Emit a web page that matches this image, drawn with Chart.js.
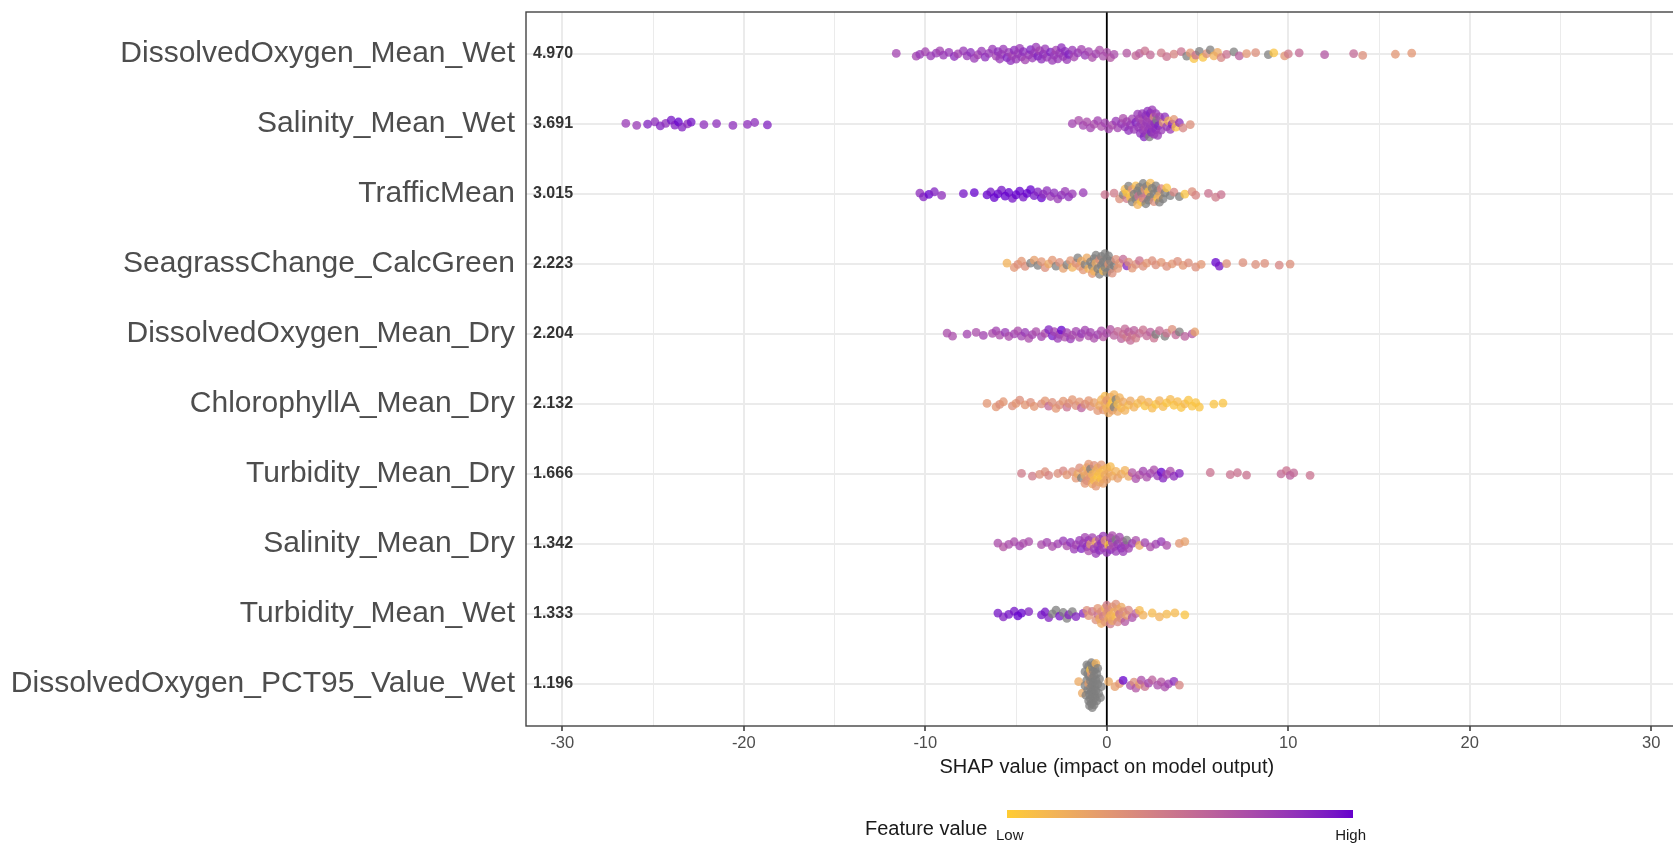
<!DOCTYPE html>
<html>
<head>
<meta charset="utf-8">
<script src="https://cdn.jsdelivr.net/npm/chart.js@4"></script>
<style>
  html, body { margin: 0; padding: 0; background: #fff; overflow: hidden; }
  #wrap { position: absolute; left: 0; top: 0; width: 1692px; height: 843px; }
</style>
</head>
<body>
<div id="wrap"><canvas id="chart" width="1692" height="843"></canvas></div>
<script>
const NA = null;

// features, top to bottom, with mean |SHAP|
const features = ['DissolvedOxygen_Mean_Wet', 'Salinity_Mean_Wet', 'TrafficMean', 'SeagrassChange_CalcGreen',
  'DissolvedOxygen_Mean_Dry', 'ChlorophyllA_Mean_Dry', 'Turbidity_Mean_Dry', 'Salinity_Mean_Dry',
  'Turbidity_Mean_Wet', 'DissolvedOxygen_PCT95_Value_Wet'];
const meanAbsShap = ['4.970', '3.691', '3.015', '2.223', '2.204', '2.132', '1.666', '1.342', '1.333', '1.196'];
const xTickLabels = [-30, -20, -10, 0, 10, 20, 30];

// [shap value, scaled feature value 0..1 (NA = missing)]
const doMeanWet = [[-11.6,.75],[-10.5,.75],[-10.3,.8],[-10.0,.75],[-9.7,.8],[-9.4,.8],[-9.2,.75],[-9.0,.8],[-8.7,.8],[-8.4,.85],
  [-8.2,.75],[-7.9,.8],[-7.7,.8],[-7.5,.85],[-7.3,.8],[-7.1,.75],[-6.9,.8],[-6.7,.85],[-6.5,.8],[-6.3,.8],[-6.1,.75],[-6.0,.85],
  [-5.9,.8],[-5.8,.8],[-5.7,.8],[-5.5,.9],[-5.4,.8],[-5.3,.85],[-5.2,.75],[-5.1,.85],[-5.0,.8],[-4.9,.8],[-4.8,.8],[-4.7,.8],
  [-4.6,.85],[-4.5,.75],[-4.3,.8],[-4.2,.9],[-4.1,.8],[-4.0,.8],[-3.9,.8],[-3.8,.9],[-3.7,.75],[-3.6,.85],[-3.5,.85],[-3.4,.8],
  [-3.3,.8],[-3.1,.9],[-3.0,.8],[-2.9,.8],[-2.8,.75],[-2.7,.8],[-2.6,.8],[-2.5,.85],[-2.4,.8],[-2.3,.85],[-2.2,.8],[-2.1,.9],
  [-1.9,.8],[-1.8,.75],[-1.6,.8],[-1.4,.75],[-1.2,.8],[-1.0,.75],[-0.8,.7],[-0.6,.75],[-0.4,.7],[-0.2,.7],[0.0,.7],[0.2,.65],[0.4,.7],
  [1.1,.65],[1.6,.55],[1.8,.6],[2.1,.5],[2.4,.55],[3.0,.45],[3.3,.5],[3.7,.4],[4.1,.5],[4.4,NA],[4.6,.3],[4.8,.05],[4.9,.5],
  [5.1,NA],[5.3,.05],[5.5,.35],[5.7,NA],[5.9,.15],[6.1,.2],[6.3,.4],[6.6,.5],[7.0,NA],[7.3,.6],[7.7,.3],[8.2,.35],[8.9,NA],
  [9.2,.05],[9.8,.3],[10.0,.45],[10.6,.55],[12.0,.65],[13.6,.55],[14.1,.35],[15.9,.3],[16.8,.3]];

const salMeanWet = [[-26.5,.8],[-25.9,.8],[-25.3,.9],[-24.9,.85],[-24.6,.9],[-24.3,.85],[-24.0,.95],[-23.8,.9],[-23.6,1],[-23.4,.9],
  [-23.1,.85],[-22.9,.95],[-22.2,.85],[-21.5,.85],[-20.6,.85],[-19.8,.85],[-19.4,.85],[-18.7,.9],
  [-1.9,.75],[-1.55,.7],[-1.3,.75],[-1.1,.7],[-0.9,.75],[-0.7,.7],[-0.5,.75],[-0.3,.7],[-0.1,.75],
  [0.1,.75],[0.3,.7],[0.5,.8],[0.6,.75],[0.8,.8],[0.9,.7],[1.0,.8],[1.1,.75],[1.2,.85],[1.3,.8],[1.4,.75],[1.5,.8],[1.6,.9],
  [1.7,.8],[1.75,.8],[1.8,.75],[1.85,.85],[1.9,.8],[1.95,.8],[2.0,.8],[2.0,.7],[2.05,.9],[2.1,.75],[2.15,.85],[2.2,.8],[2.2,.8],
  [2.25,.85],[2.3,.8],[2.3,.75],[2.35,NA],[2.4,.8],[2.4,.9],[2.45,.9],[2.5,.75],[2.5,.8],[2.55,.8],[2.6,.35],[2.6,.8],[2.65,.85],
  [2.7,.8],[2.7,.85],[2.75,NA],[2.8,.8],[2.85,.9],[2.9,.75],[3.0,.8],[3.1,.3],[3.2,.85],[3.3,.8],[3.4,.15],[3.5,.8],[3.6,.9],
  [3.7,.3],[3.8,.05],[4.0,.85],[4.2,.4],[4.6,.35]];

const trafficMean = [[-10.3,.85],[-10.1,.9],[-9.8,1],[-9.5,.9],[-9.1,.85],[-7.9,.95],[-7.3,1],[-6.6,1],[-6.4,.95],[-6.2,1],
  [-6.0,1],[-5.8,.95],[-5.6,1],[-5.4,1],[-5.2,.95],[-5.0,1],[-4.8,1],[-4.6,.95],[-4.4,1],[-4.2,1],[-4.0,.95],[-3.8,.9],[-3.6,1],
  [-3.5,.85],[-3.3,.85],[-3.1,.8],[-2.9,.85],[-2.7,.8],[-2.5,.85],[-2.3,.8],[-2.1,.85],[-1.9,.8],[-1.3,.8],
  [-0.1,.5],[0.4,.45],[0.7,.35],[0.9,NA],[1.0,.1],[1.1,.45],[1.1,.05],[1.2,NA],[1.3,.05],[1.4,.3],[1.4,NA],[1.5,NA],[1.6,.1],
  [1.6,NA],[1.7,NA],[1.7,.15],[1.75,.5],[1.8,NA],[1.9,.05],[1.9,NA],[2.0,NA],[2.0,.45],[2.1,.3],[2.15,NA],[2.2,.45],[2.2,NA],
  [2.3,NA],[2.3,.05],[2.4,.1],[2.4,NA],[2.5,NA],[2.6,.35],[2.6,NA],[2.7,NA],[2.8,.05],[2.8,NA],[2.9,NA],[2.9,.2],[3.0,.4],
  [3.1,NA],[3.2,NA],[3.3,.05],[3.5,NA],[3.7,.4],[4.0,NA],[4.3,.05],[4.7,.35],[4.9,.4],[5.6,.5],[6.0,.45],[6.3,.5]];

const seagrassCalcGreen = [[-5.5,.15],[-5.1,.3],[-4.9,.35],[-4.7,.3],[-4.5,.35],[-4.2,NA],[-4.0,.25],[-3.8,NA],[-3.6,.3],[-3.4,.35],
  [-3.2,.2],[-3.0,.3],[-2.8,NA],[-2.6,.35],[-2.4,.25],[-2.2,NA],[-2.0,.3],[-1.9,.15],[-1.7,.35],[-1.6,NA],[-1.5,.3],[-1.4,.2],
  [-1.3,.3],[-1.2,NA],[-1.1,.2],[-1.0,.15],[-0.9,NA],[-0.8,.3],[-0.8,NA],[-0.7,NA],[-0.7,.15],[-0.6,.2],[-0.6,NA],[-0.5,NA],
  [-0.4,.35],[-0.4,NA],[-0.3,NA],[-0.3,NA],[-0.2,.1],[-0.2,NA],[-0.1,NA],[-0.1,NA],[0.0,NA],[0.0,NA],[0.1,.3],[0.1,NA],[0.2,NA],
  [0.2,NA],[0.3,.35],[0.4,NA],[0.5,.35],[0.6,.3],[0.7,.3],[0.9,.55],[1.1,.9],[1.2,.35],[1.4,.3],[1.6,.35],[1.8,.5],[2.0,.35],
  [2.2,.3],[2.5,.35],[2.7,.35],[3.0,.3],[3.3,.35],[3.6,.3],[3.9,.35],[4.2,.3],[4.5,.35],[4.9,.35],[5.2,.3],[6.0,1],[6.2,.95],
  [6.6,.35],[7.5,.35],[8.2,.35],[8.7,.35],[9.5,.4],[10.1,.35]];

const doMeanDry = [[-8.8,.7],[-8.5,.7],[-7.7,.75],[-7.2,.7],[-6.8,.75],[-6.3,.7],[-6.1,.75],[-5.9,.7],[-5.6,.8],[-5.4,.7],
  [-5.1,.75],[-4.9,.7],[-4.7,.75],[-4.5,.8],[-4.3,.7],[-4.1,.75],[-3.9,.7],[-3.6,.75],[-3.4,.7],[-3.2,.9],[-3.0,.95],[-2.9,.75],
  [-2.7,.8],[-2.6,.75],[-2.5,1],[-2.3,.7],[-2.2,.75],[-2.0,.8],[-1.9,.7],[-1.7,.75],[-1.5,.7],[-1.4,.8],[-1.2,.75],[-1.0,.7],
  [-0.9,.75],[-0.7,.7],[-0.5,.75],[-0.3,.7],[-0.2,.65],[0.0,.7],[0.2,.65],[0.4,.6],
  [0.6,.55],[0.8,.6],[0.9,.5],[1.0,.55],[1.1,.45],[1.2,.6],[1.3,.55],[1.4,.5],[1.5,.6],[1.6,.45],[1.8,.55],[2.0,.5],[2.2,.55],
  [2.4,.6],[2.6,.5],[2.7,NA],[2.9,.55],[3.2,NA],[3.3,.5],[3.6,.35],[3.8,.55],[4.0,NA],[4.3,.6],[4.7,.65],[4.85,.25]];

const chlaMeanDry = [[-6.6,.3],[-6.1,.3],[-5.9,.35],[-5.7,.3],[-5.2,.35],[-5.0,.3],[-4.8,.35],[-4.5,.3],[-4.2,.35],[-4.0,.3],
  [-3.6,.35],[-3.4,.3],[-3.2,.55],[-3.0,.35],[-2.8,.3],[-2.6,.35],[-2.4,.3],[-2.2,.5],[-2.1,.35],[-1.9,.3],[-1.7,.35],[-1.5,.3],
  [-1.4,.6],[-1.2,.35],[-1.0,.3],[-0.9,.35],[-0.7,.25],[-0.5,.3],[-0.4,.2],[-0.3,.15],[-0.2,.3],[-0.1,.2],[-0.1,.1],[0.0,.15],
  [0.0,.3],[0.1,.2],[0.2,.1],[0.2,.2],[0.3,.25],[0.3,.05],[0.4,.15],[0.4,NA],[0.5,NA],[0.6,.2],[0.6,.1],[0.7,.15],[0.8,.1],
  [0.9,.2],[1.0,.15],[1.2,.1],[1.3,.2],[1.5,.15],[1.7,.1],[1.9,.15],[2.1,.05],[2.3,.15],[2.5,.1],[2.7,.05],[2.9,.15],[3.1,.1],
  [3.3,.05],[3.5,.1],[3.7,.05],[3.9,.1],[4.1,.05],[4.3,.1],[4.5,.05],[4.7,.05],[4.9,.05],[5.1,.05],[5.9,.05],[6.4,.05]];

const turbMeanDry = [[-4.7,.45],[-4.1,.45],[-3.7,.35],[-3.4,.35],[-3.2,.4],[-2.7,.35],[-2.4,.4],[-2.2,.3],[-1.9,.35],[-1.7,.3],
  [-1.6,.2],[-1.5,.35],[-1.4,NA],[-1.3,.25],[-1.2,.3],[-1.2,.2],[-1.1,.15],[-1.1,.35],[-1.0,.25],[-1.0,.3],[-0.9,.3],[-0.9,NA],
  [-0.8,.2],[-0.8,.15],[-0.7,.35],[-0.7,.1],[-0.6,.15],[-0.6,.3],[-0.5,.05],[-0.5,.2],[-0.4,.2],[-0.4,.1],[-0.3,.3],[-0.3,.05],
  [-0.2,.1],[-0.2,.25],[-0.1,.2],[0.0,.15],[0.0,.25],[0.1,.2],[0.2,.1],[0.3,.2],[0.5,.15],[0.6,.25],[0.8,.2],[1.0,.15],[1.2,.2],
  [1.4,.65],[1.6,.7],[1.8,.65],[2.0,.75],[2.2,.7],[2.4,.75],[2.6,.7],[2.8,.8],[3.0,1],[3.1,.9],[3.3,.75],[3.5,.7],[3.7,.85],
  [4.0,.9],[5.7,.5],[6.8,.5],[7.2,.5],[7.7,.5],[9.6,.55],[9.9,.5],[10.1,.6],[10.3,.55],[11.2,.5]];

const salMeanDry = [[-6.0,.7],[-5.7,.65],[-5.4,.7],[-5.1,.7],[-4.8,.75],[-4.6,.7],[-4.3,.7],[-3.6,.7],[-3.3,.75],[-3.0,.7],
  [-2.7,.75],[-2.4,.8],[-2.2,.7],[-2.0,.85],[-1.8,.8],[-1.7,.75],[-1.5,.8],[-1.4,.9],[-1.3,.8],[-1.2,.75],[-1.1,.85],[-1.0,.8],
  [-1.0,.7],[-0.9,.3],[-0.8,.75],[-0.7,.8],[-0.6,.2],[-0.6,.8],[-0.5,.8],[-0.4,.75],[-0.4,.85],[-0.3,.85],[-0.2,.8],[-0.2,.75],
  [-0.1,.3],[0.0,.8],[0.1,.05],[0.2,.75],[0.2,.85],[0.3,.8],[0.3,.7],[0.4,.7],[0.5,NA],[0.5,.8],[0.6,.8],[0.7,.75],[0.8,.85],
  [0.9,.7],[0.9,.8],[1.0,.8],[1.1,NA],[1.2,.75],[1.4,.8],[1.6,.7],[1.8,.2],[2.1,.75],[2.4,.7],[2.7,.75],[3.0,.8],[3.3,.7],
  [4.0,.3],[4.3,.25]];

const turbMeanWet = [[-6.0,.95],[-5.7,.9],[-5.4,.95],[-5.1,.95],[-4.9,1],[-4.7,1],[-4.3,.9],[-3.6,.95],[-3.4,.95],[-3.2,.9],
  [-3.0,NA],[-2.8,NA],[-2.6,.95],[-2.4,NA],[-2.2,NA],[-2.1,.9],[-1.9,NA],[-1.7,.9],[-1.3,.9],[-1.1,.35],[-1.0,.3],[-0.8,.45],
  [-0.6,.35],[-0.5,.5],[-0.5,.3],[-0.4,.2],[-0.3,.35],[-0.3,.2],[-0.2,.45],[-0.1,.15],[-0.1,.3],[0.0,.3],[0.0,.45],[0.1,.2],
  [0.1,.4],[0.2,.45],[0.2,.15],[0.3,.3],[0.3,.2],[0.4,.15],[0.5,.35],[0.5,.1],[0.6,.25],[0.6,.4],[0.7,.5],[0.8,.2],[0.8,.35],
  [0.9,.35],[1.0,.65],[1.1,.25],[1.2,.4],[1.4,.7],[1.6,.6],[1.8,.1],[2.0,.15],[2.5,.1],[2.9,.15],[3.3,.1],[3.75,.1],[4.3,.05]];

const doPct95Wet = [[-1.55,.2],[-1.35,.2],[-1.2,NA],[-1.2,NA],[-1.15,NA],[-1.1,NA],[-1.1,NA],[-1.05,NA],[-1.05,NA],[-1.0,NA],
  [-1.0,.25],[-1.0,NA],[-0.95,NA],[-0.95,NA],[-0.95,NA],[-0.9,NA],[-0.9,.05],[-0.9,NA],[-0.9,NA],[-0.85,NA],[-0.85,NA],
  [-0.85,.3],[-0.85,NA],[-0.8,NA],[-0.8,NA],[-0.8,NA],[-0.8,NA],[-0.8,NA],[-0.75,NA],[-0.75,NA],[-0.75,NA],[-0.75,NA],
  [-0.7,NA],[-0.7,NA],[-0.7,NA],[-0.7,NA],[-0.65,NA],[-0.65,NA],[-0.65,NA],[-0.6,NA],[-0.6,.15],[-0.6,NA],[-0.55,NA],
  [-0.55,NA],[-0.5,NA],[-0.5,NA],[-0.45,NA],[-0.4,NA],[-0.35,NA],[-0.3,NA],
  [0.1,.2],[0.45,.25],[0.7,.3],[0.9,1],[1.3,.7],[1.5,.35],[1.6,.65],[1.8,.25],[1.9,.7],[2.1,.5],[2.3,.75],[2.5,.6],[2.8,.7],
  [3.0,.65],[3.2,.7],[3.4,.75],[3.7,.85],[4.0,.4]];

const rows = [doMeanWet, salMeanWet, trafficMean, seagrassCalcGreen, doMeanDry, chlaMeanDry, turbMeanDry, salMeanDry, turbMeanWet, doPct95Wet];

// ---- colour scale: ggplot scale_color_gradient(low = "#FFCC33", high = "#6600CC"), Lab interpolation
const LOW = '#FFCC33', HIGH = '#6600CC', NA_COL = '#7f7f7f', ALPHA = 0.75;
function hexRgb(h) { return [1, 3, 5].map(i => parseInt(h.substr(i, 2), 16)); }
function toLin(c) { c /= 255; return c <= 0.04045 ? c / 12.92 : Math.pow((c + 0.055) / 1.055, 2.4); }
function fromLin(c) { const v = c <= 0.0031308 ? 12.92 * c : 1.055 * Math.pow(c, 1 / 2.4) - 0.055; return Math.round(Math.max(0, Math.min(1, v)) * 255); }
function rgbLab(rgb) {
  const [r, g, b] = rgb.map(toLin);
  const X = (0.4124 * r + 0.3576 * g + 0.1805 * b) / 0.95047, Y = 0.2126 * r + 0.7152 * g + 0.0722 * b, Z = (0.0193 * r + 0.1192 * g + 0.9505 * b) / 1.08883;
  const f = t => t > 0.008856 ? Math.cbrt(t) : 7.787 * t + 16 / 116;
  return [116 * f(Y) - 16, 500 * (f(X) - f(Y)), 200 * (f(Y) - f(Z))];
}
function labRgb([L, a, bb]) {
  const fy = (L + 16) / 116, fx = fy + a / 500, fz = fy - bb / 200;
  const fi = t => t > 0.206893 ? t * t * t : (t - 16 / 116) / 7.787;
  const X = fi(fx) * 0.95047, Y = fi(fy), Z = fi(fz) * 1.08883;
  const r = 3.2406 * X - 1.5372 * Y - 0.4986 * Z, g = -0.9689 * X + 1.8758 * Y + 0.0415 * Z, b = 0.0557 * X - 0.2040 * Y + 1.0570 * Z;
  return [fromLin(r), fromLin(g), fromLin(b)];
}
const labLow = rgbLab(hexRgb(LOW)), labHigh = rgbLab(hexRgb(HIGH));
function featColor(v, alpha) {
  if (v === null) { const c = hexRgb(NA_COL); return `rgba(${c[0]},${c[1]},${c[2]},${alpha})`; }
  const c = labRgb(labLow.map((l, i) => l + (labHigh[i] - l) * v));
  return `rgba(${c[0]},${c[1]},${c[2]},${alpha})`;
}

// ---- sina-style vertical spread (width follows local point count)
const BAND = 0.45, MAXW = 0.35, SHAPE = 0.72;
const localCounts = rows.map(r => r.map(p => r.filter(q => Math.abs(q[0] - p[0]) <= BAND).length));
const maxCount = Math.max(...localCounts.flat());
const datasets = rows.map((r, ri) => {
  const order = r.map((p, i) => i).sort((a, b) => r[a][0] - r[b][0]);
  const offs = new Array(r.length);
  order.forEach((idx, k) => {
    const u = ((k * 0.6180339887 + 0.31) % 1) * 2 - 1;
    offs[idx] = u * MAXW * Math.pow(localCounts[ri][idx] / maxCount, SHAPE);
  });
  return {
    data: r.map((p, i) => ({ x: p[0], y: ri + 1 + offs[i] })),
    backgroundColor: r.map(p => featColor(p[1], ALPHA)),
    borderWidth: 0,
    pointRadius: 4.4,
    pointHoverRadius: 4.4
  };
});

const FONT = "'Liberation Sans', Arial, Helvetica, sans-serif";

const decor = {
  id: 'decor',
  beforeDatasetsDraw(chart) {
    const { ctx, chartArea: a, scales: { x } } = chart;
    const x0 = x.getPixelForValue(0);
    ctx.save();
    ctx.strokeStyle = '#000';
    ctx.lineWidth = 1.8;
    ctx.beginPath(); ctx.moveTo(x0, a.top); ctx.lineTo(x0, a.bottom); ctx.stroke();
    ctx.restore();
  },
  afterDraw(chart) {
    const { ctx, chartArea: a, scales: { x, y } } = chart;
    ctx.save();
    // panel border
    ctx.strokeStyle = '#444';
    ctx.lineWidth = 1.4;
    ctx.strokeRect(a.left, a.top, a.right - a.left, a.bottom - a.top);
    // feature names and mean |SHAP|
    ctx.textBaseline = 'middle';
    features.forEach((f, i) => {
      const py = y.getPixelForValue(i + 1);
      ctx.font = `30px ${FONT}`;
      ctx.fillStyle = '#4d4d4d';
      ctx.textAlign = 'right';
      ctx.fillText(f, a.left - 11, py);
      ctx.font = `bold 16px ${FONT}`;
      ctx.fillStyle = '#333';
      ctx.textAlign = 'left';
      ctx.fillText(meanAbsShap[i], a.left + 7, py);
    });
    // axis title
    ctx.font = `20px ${FONT}`;
    ctx.fillStyle = '#1a1a1a';
    ctx.textAlign = 'center';
    ctx.fillText('SHAP value (impact on model output)', (a.left + a.right) / 2, 767);
    // colour bar legend
    const bx0 = 1007, bx1 = 1353, by0 = 810, by1 = 818;
    const grad = ctx.createLinearGradient(bx0, 0, bx1, 0);
    for (let k = 0; k <= 20; k++) grad.addColorStop(k / 20, featColor(k / 20, 1));
    ctx.fillStyle = grad;
    ctx.fillRect(bx0, by0, bx1 - bx0, by1 - by0);
    ctx.textAlign = 'left';
    ctx.fillStyle = '#1a1a1a';
    ctx.fillText('Feature value', 865, 829);
    ctx.font = `15px ${FONT}`;
    ctx.fillText('Low', 996, 836);
    ctx.textAlign = 'right';
    ctx.fillText('High', 1366, 836);
    ctx.restore();
  }
};

new Chart(document.getElementById('chart').getContext('2d'), {
  type: 'scatter',
  data: { datasets },
  options: {
    responsive: false,
    animation: false,
    events: [],
    layout: { padding: { top: 12, left: 0, right: 0, bottom: 0 } },
    plugins: { legend: { display: false }, tooltip: { enabled: false } },
    scales: {
      x: {
        type: 'linear', min: -32, max: 32,
        afterBuildTicks: s => { s.ticks = []; for (let v = -30; v <= 30; v += 5) s.ticks.push({ value: v }); },
        afterFit: s => { s.height = 843 - 726; },
        ticks: {
          autoSkip: false, maxRotation: 0, padding: 3, color: '#4d4d4d',
          font: { family: FONT, size: 16.5 },
          callback: v => xTickLabels.includes(v) ? String(v) : ''
        },
        grid: {
          color: '#ebebeb',
          lineWidth: c => (c.tick && xTickLabels.includes(c.tick.value)) ? 2 : 1,
          tickColor: c => (c.tick && xTickLabels.includes(c.tick.value)) ? '#333' : 'rgba(0,0,0,0)',
          tickLength: 5, tickWidth: 1.5
        },
        border: { display: false }
      },
      y: {
        type: 'linear', min: 0.4, max: 10.6, reverse: true,
        afterBuildTicks: s => { s.ticks = features.map((f, i) => ({ value: i + 1 })); },
        afterFit: s => { s.width = 526; },
        ticks: { display: false },
        grid: { color: '#ebebeb', lineWidth: 2, drawTicks: false },
        border: { display: false }
      }
    }
  },
  plugins: [decor]
});
</script>
</body>
</html>
